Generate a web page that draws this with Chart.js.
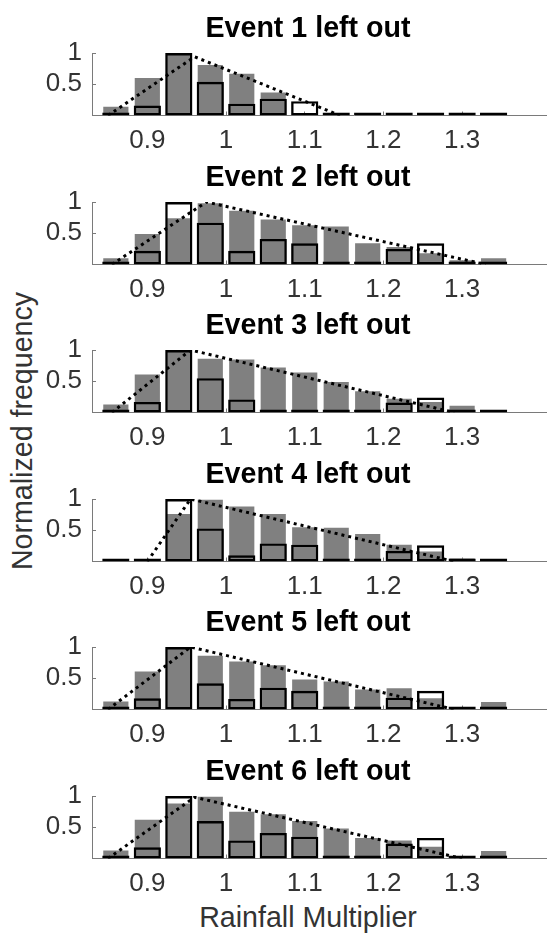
<!DOCTYPE html>
<html lang="en">
<head>
<meta charset="UTF-8">
<title>Rainfall Multiplier - events left out</title>
<script src="https://cdn.jsdelivr.net/npm/chart.js"></script>
<style>
  html, body {
    margin: 0;
    padding: 0;
    background: #fff;
    overflow: hidden;
  }
  body {
    width: 547px;
    height: 936px;
    position: relative;
    font-family: 'Liberation Sans', Arial, sans-serif;
  }
  .panel {
    position: absolute;
    left: 0;
  }
  .axis-label {
    position: absolute;
    white-space: nowrap;
    font-size: 28.6px;
    color: #333;
    line-height: 1;
  }
  #ylabel {
    left: 22px;
    top: 431px;
    transform: translate(-50%, -50%) rotate(-90deg);
  }
  #xlabel {
    left: 308px;
    top: 917px;
    transform: translate(-50%, -50%);
  }
</style>
</head>
<body>
<div id="ylabel" class="axis-label">Normalized frequency</div>
<div id="xlabel" class="axis-label">Rainfall Multiplier</div>
<script>
// bin centres of the histograms
const binCenters = [0.86, 0.90, 0.94, 0.98, 1.02, 1.06, 1.10, 1.14, 1.18, 1.22, 1.26, 1.30, 1.34];
const xTicks = [0.9, 1, 1.1, 1.2, 1.3];
const yTicks = [0.5, 1];
const titles = ['Event 1 left out', 'Event 2 left out', 'Event 3 left out',
                'Event 4 left out', 'Event 5 left out', 'Event 6 left out'];

// grey filled bars, one row per panel
const filledFreq = [
  [0.14, 0.60, 1.00, 0.81, 0.67, 0.37, 0,    0,    0,    0,    0,    0,    0],
  [0.10, 0.49, 0.74, 0.98, 0.86, 0.72, 0.63, 0.61, 0.34, 0.28, 0.18, 0.07, 0.10],
  [0.13, 0.61, 1.00, 0.86, 0.85, 0.72, 0.64, 0.49, 0.34, 0.22, 0.17, 0.11, 0],
  [0,    0.04, 0.76, 0.99, 0.88, 0.76, 0.55, 0.54, 0.44, 0.27, 0.16, 0.05, 0],
  [0.13, 0.61, 1.00, 0.86, 0.77, 0.71, 0.48, 0.45, 0.32, 0.34, 0.18, 0.04, 0.12],
  [0.13, 0.62, 0.88, 0.99, 0.75, 0.71, 0.60, 0.48, 0.33, 0.29, 0.19, 0.04, 0.12]
];

// black outlined bars, one row per panel
const outlinedFreq = [
  [0, 0.16, 1.00, 0.54, 0.19, 0.27, 0.23, 0, 0,    0,    0,    0,    0],
  [0, 0.22, 1.00, 0.67, 0.22, 0.41, 0.34, 0, 0.04, 0.25, 0.34, 0.03, 0],
  [0, 0.17, 1.00, 0.55, 0.21, 0,    0,    0, 0.02, 0.16, 0.24, 0.03, 0],
  [0, 0.03, 1.00, 0.53, 0.10, 0.29, 0.27, 0, 0.02, 0.17, 0.26, 0.04, 0],
  [0, 0.18, 1.00, 0.42, 0.17, 0.35, 0.30, 0, 0.02, 0.19, 0.30, 0.02, 0],
  [0, 0.18, 1.00, 0.60, 0.29, 0.41, 0.35, 0, 0.03, 0.24, 0.33, 0.02, 0]
];

// dotted triangular curve: corner points per panel
const triangleX = [
  [0.850, 0.960, 1.145],
  [0.855, 0.975, 1.330],
  [0.855, 0.955, 1.290],
  [0.900, 0.955, 1.290],
  [0.850, 0.955, 1.290],
  [0.850, 0.960, 1.300]
];
const triangleY = [
  [0, 0.94, 0],
  [0, 1.00, 0],
  [0, 1.00, 0],
  [0, 1.00, 0],
  [0, 1.00, 0],
  [0, 0.98, 0]
];

// layout
const FONT = "'Liberation Sans', Arial, sans-serif";
const CANVAS_W = 616;          // wider than the window, right part is cropped
const PLOT_LEFT = 92;
const X_MIN = 0.8297;
const X_MAX = X_MIN + (CANVAS_W - PLOT_LEFT) / 787;
const plotTops = [53, 201.5, 350, 498.5, 646.5, 796];
const PLOT_H = 62.5;
const TITLE_SIZE = 28.6;
const TITLE_PAD = { top: 6, bottom: 6.68 };
const TITLE_BLOCK = TITLE_PAD.top + TITLE_SIZE * 1.2 + TITLE_PAD.bottom;
const X_AXIS_H = 40;
const AXIS_GREY = '#7a7a7a';
const TEXT_GREY = '#333';

plotTops.forEach((plotTop, i) => {
  const top = Math.round(plotTop - TITLE_BLOCK);
  const height = Math.round(TITLE_BLOCK + PLOT_H + X_AXIS_H);
  const canvas = document.createElement('canvas');
  canvas.className = 'panel';
  canvas.width = CANVAS_W;
  canvas.height = height;
  canvas.style.top = top + 'px';
  canvas.style.width = CANVAS_W + 'px';
  canvas.style.height = height + 'px';
  document.body.appendChild(canvas);

  const xAxisH = height - TITLE_BLOCK - PLOT_H;

  new Chart(canvas, {
    type: 'bar',
    data: {
      datasets: [
        {
          type: 'line',
          data: triangleX[i].map((x, k) => ({ x: x, y: triangleY[i][k] })),
          borderColor: '#000',
          borderWidth: 3,
          borderDash: [3, 4],
          pointRadius: 0,
          tension: 0,
          fill: false,
          order: 1
        },
        {
          data: binCenters.map((x, k) => ({ x: x, y: outlinedFreq[i][k] })),
          backgroundColor: 'rgba(0,0,0,0)',
          borderColor: '#000',
          borderWidth: 2.4,
          borderSkipped: false,
          grouped: false,
          categoryPercentage: 1,
          barPercentage: 0.865,
          minBarLength: 3,
          order: 2
        },
        {
          data: binCenters.map((x, k) => ({ x: x, y: filledFreq[i][k] })),
          backgroundColor: '#808080',
          borderWidth: 0,
          grouped: false,
          categoryPercentage: 1,
          barPercentage: 0.8,
          order: 3
        }
      ]
    },
    options: {
      responsive: false,
      animation: false,
      devicePixelRatio: 1,
      layout: { padding: 0 },
      plugins: {
        legend: { display: false },
        tooltip: { enabled: false },
        title: {
          display: true,
          text: titles[i],
          color: '#000',
          font: { family: FONT, size: TITLE_SIZE, weight: 'bold', lineHeight: 1.2 },
          padding: TITLE_PAD
        }
      },
      scales: {
        x: {
          type: 'linear',
          offset: false,
          min: X_MIN,
          max: X_MAX,
          afterBuildTicks: s => { s.ticks = xTicks.map(v => ({ value: v })); },
          afterFit: s => { s.height = xAxisH; },
          ticks: {
            autoSkip: false,
            maxRotation: 0,
            padding: 14,
            color: TEXT_GREY,
            font: { family: FONT, size: 26, lineHeight: 1.2 },
            callback: v => String(v)
          },
          grid: { offset: false, drawOnChartArea: false, drawTicks: true, tickLength: -4, color: AXIS_GREY },
          border: { display: true, color: AXIS_GREY, width: 1 }
        },
        y: {
          min: 0,
          max: 1,
          afterBuildTicks: s => { s.ticks = yTicks.map(v => ({ value: v })); },
          afterFit: s => { s.width = PLOT_LEFT; },
          ticks: {
            padding: 14,
            color: TEXT_GREY,
            font: { family: FONT, size: 26, lineHeight: 1.2 },
            callback: v => String(v)
          },
          grid: { drawOnChartArea: false, drawTicks: true, tickLength: -4, color: AXIS_GREY },
          border: { display: true, color: AXIS_GREY, width: 1 }
        }
      }
    }
  });
});
</script>
</body>
</html>
